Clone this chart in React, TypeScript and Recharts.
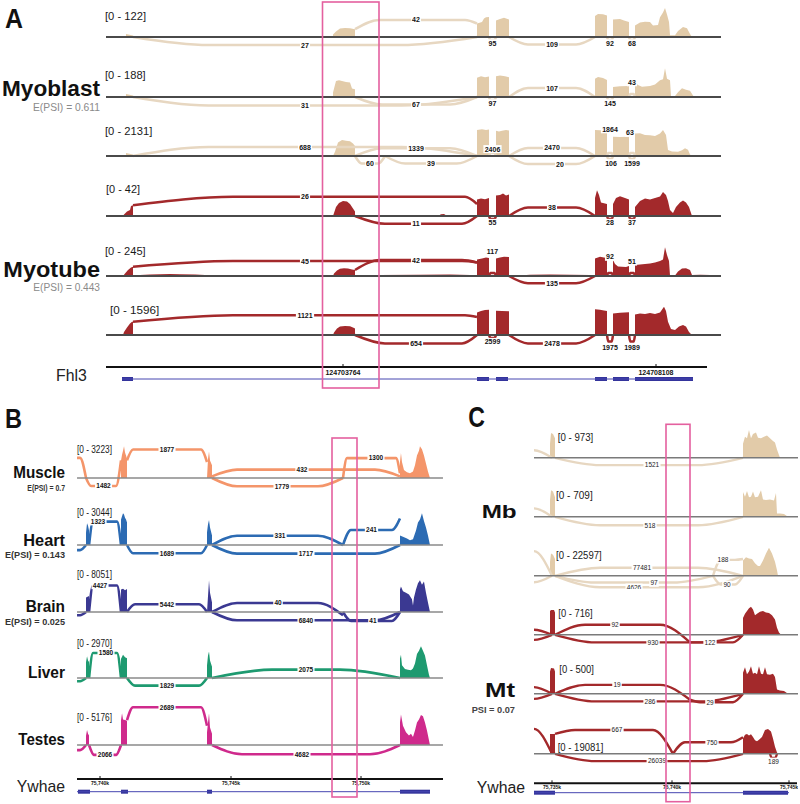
import React from 'react';
import { ComposedChart, XAxis, YAxis, Area, Line, Scatter, ReferenceLine, ReferenceArea } from 'recharts';

type Pt = [number, number];
type Arc = { a: number; b: number; h: number; n?: string; y1?: number; y2?: number; k?: number; k2?: number; lx?: number; ly?: number };

const FONT = '"Liberation Sans", Arial, Helvetica, sans-serif';

// ================= Panel A : Fhl3 (coverage in % of track range, positions along the locus) =================
const fhl3Ranges = [122, 188, 2131, 42, 245, 1596];

const mb1Cov: Pt[] = [[126,0],[126,10],[133,5],[133,0],
  [333,0],[333,8],[336,18],[340,28],[345,30],[350,29],[355,26],[355,0],
  [477,0],[477,45],[482,50],[484,62],[486,66],[489,67],[489,0],
  [496,0],[496,55],[500,60],[504,64],[509,58],[509,0],
  [595,0],[595,70],[598,77],[603,76],[607,72],[607,0],
  [613,0],[613,58],[620,60],[624,55],[629,50],[629,0],
  [635,0],[635,38],[640,48],[645,51],[650,50],[653,38],[658,40],[660,66],[663,82],[665,97],[667,75],[669,50],[670,6],[675,6],[678,20],[683,33],[687,29],[690,10],[692,0]];
const mb2Cov: Pt[] = [[126,0],[126,10],[133,5],[133,0],
  [333,0],[333,15],[336,53],[339,56],[342,53],[346,50],[350,48],[352,28],[355,26],[355,0],
  [477,0],[477,64],[481,69],[485,66],[489,68],[489,0],
  [496,0],[496,69],[500,72],[505,69],[509,66],[509,0],
  [595,0],[595,61],[598,67],[603,63],[607,57],[607,0],
  [613,0],[613,33],[620,36],[629,37],[629,0],
  [635,0],[635,48],[638,40],[642,34],[650,37],[655,42],[660,56],[663,59],[665,96],[667,61],[670,56],[671,3],[675,3],[678,16],[682,29],[686,24],[690,21],[693,5],[694,0]];
const mb3Cov: Pt[] = [[126,0],[126,10],[133,5],[133,0],
  [333,0],[335,14],[338,45],[342,53],[346,51],[350,49],[353,42],[355,33],[355,0],
  [477,0],[477,87],[482,89],[486,87],[489,88],[489,0],
  [496,0],[496,84],[499,82],[502,84],[506,87],[509,85],[509,0],
  [595,0],[595,87],[600,86],[607,84],[607,0],
  [613,0],[613,64],[620,63],[629,64],[629,0],
  [635,0],[635,75],[640,76],[645,70],[650,69],[655,67],[660,75],[663,87],[666,70],[668,20],[672,15],[678,14],[682,19],[685,26],[688,21],[690,5],[692,0]];
const mt1Cov: Pt[] = [[123,0],[124,5],[127,15],[130,20],[131,33],[133,36],[133,0],
  [303,0],[305,3],[307,0],
  [333,0],[334,10],[336,30],[339,43],[343,50],[347,48],[350,40],[353,25],[355,15],[355,0],
  [438,0],[441,6],[444,7],[447,0],
  [477,0],[477,55],[481,58],[485,56],[489,60],[489,0],
  [496,0],[496,68],[500,70],[503,75],[506,68],[509,72],[509,0],
  [520,0],[524,3],[528,0],
  [595,0],[595,60],[597,86],[599,70],[601,45],[607,40],[607,0],
  [613,0],[613,40],[616,60],[620,66],[625,60],[629,55],[629,0],
  [635,0],[635,30],[640,50],[645,58],[650,55],[655,60],[660,65],[663,80],[666,70],[668,50],[670,20],[673,10],[676,30],[680,45],[683,52],[686,45],[689,30],[692,0]];
const mt2Cov: Pt[] = [[123,0],[125,8],[128,20],[131,28],[133,31],[133,0],
  [136,0],[140,3],[150,5],[160,6],[170,7],[180,6],[195,5],[205,3],[208,0],
  [240,0],[250,2],[270,3],[290,3],[305,2],[310,0],
  [333,0],[334,8],[337,18],[340,24],[344,26],[348,25],[352,22],[355,20],[355,0],
  [360,0],[380,3],[420,4],[450,5],[470,3],[477,0],
  [477,55],[482,58],[486,62],[489,60],[489,0],
  [496,0],[496,58],[500,62],[504,64],[509,63],[509,0],
  [512,0],[530,4],[550,5],[570,4],[590,3],[595,0],
  [595,58],[600,64],[604,62],[607,60],[607,0],
  [613,0],[613,53],[615,40],[618,32],[622,31],[626,30],[629,33],[629,0],
  [635,0],[635,37],[640,38],[645,40],[650,42],[655,45],[660,50],[663,55],[665,96],[667,70],[669,50],[670,2],[675,2],[678,15],[682,25],[686,26],[690,20],[692,3],[700,4],[710,3],[719,2],[720,0]];
const mt3Cov: Pt[] = [[123,0],[124,10],[127,25],[130,38],[132,44],[133,44],[133,0],
  [150,0],[160,3],[175,2],[200,3],[230,2],[260,3],[290,2],[320,3],[330,0],
  [333,0],[334,8],[337,22],[340,28],[345,30],[350,29],[353,25],[355,22],[355,0],
  [380,0],[400,2],[440,3],[470,2],[477,0],
  [477,75],[481,80],[485,83],[489,84],[489,0],
  [496,0],[496,81],[502,80],[509,79],[509,0],
  [595,0],[595,86],[600,84],[604,82],[607,80],[607,0],
  [613,0],[613,72],[620,74],[629,76],[629,0],
  [635,0],[635,68],[640,72],[645,70],[650,73],[655,70],[660,75],[664,94],[666,80],[668,44],[671,20],[675,17],[679,28],[683,33],[686,28],[689,10],[692,0]];

const mb1Arcs: Arc[] = [
  { a: 133, b: 477, h: -27, n: '27' },
  { a: 355, b: 477, h: 57, y1: 26, y2: 45, k: 24, k2: 12, n: '42' },
  { a: 489, b: 496, h: -10, n: '95', ly: -21 },
  { a: 509, b: 595, h: -25, n: '109' },
  { a: 607, b: 613, h: -10, n: '92', ly: -21 },
  { a: 629, b: 635, h: -10, n: '68', ly: -21 },
];
const mb2Arcs: Arc[] = [
  { a: 133, b: 477, h: -28, n: '31' },
  { a: 355, b: 477, h: -25, n: '67' },
  { a: 489, b: 496, h: -10, n: '97', ly: -21 },
  { a: 509, b: 595, h: 30, n: '107' },
  { a: 607, b: 613, h: -10, n: '145', ly: -21 },
  { a: 629, b: 635, h: 10, n: '43', ly: 49 },
];
const mb3Arcs: Arc[] = [
  { a: 133, b: 477, h: 30, n: '688' },
  { a: 355, b: 477, h: 26, n: '1339' },
  { a: 355, b: 385, h: -25, n: '60' },
  { a: 385, b: 477, h: -25, n: '39' },
  { a: 489, b: 496, h: 10, n: '2406', ly: 23 },
  { a: 509, b: 595, h: 27, n: '2470' },
  { a: 509, b: 595, h: -27, n: '20', lx: 560 },
  { a: 607, b: 613, h: 10, n: '1864', ly: 89 },
  { a: 607, b: 613, h: -10, n: '106', ly: -24, lx: 611 },
  { a: 629, b: 635, h: 10, n: '63', ly: 77, lx: 630 },
  { a: 629, b: 635, h: -10, n: '1599', ly: -24 },
];
const mt1Arcs: Arc[] = [
  { a: 133, b: 477, h: 64, y1: 36, y2: 40, k: 100, k2: 12, n: '26' },
  { a: 355, b: 477, h: -26, k: 30, k2: 15, n: '11' },
  { a: 489, b: 496, h: -10, n: '55', ly: -23 },
  { a: 509, b: 595, h: 28, n: '38' },
  { a: 607, b: 613, h: -10, n: '28', ly: -23 },
  { a: 629, b: 635, h: -10, n: '37', ly: -23 },
];
const mt2Arcs: Arc[] = [
  { a: 133, b: 477, h: 50, y1: 31, y2: 45, k: 100, k2: 15, n: '45' },
  { a: 355, b: 477, h: 53, y1: 20, y2: 45, k: 25, k2: 15, n: '42' },
  { a: 489, b: 496, h: 10, n: '117', ly: 81 },
  { a: 509, b: 595, h: -24, n: '135' },
  { a: 607, b: 613, h: 10, n: '92', ly: 64 },
  { a: 629, b: 635, h: 10, n: '51', ly: 48 },
];
const mt3Arcs: Arc[] = [
  { a: 133, b: 477, h: 66, y1: 44, y2: 60, k: 100, k2: 12, n: '1121' },
  { a: 355, b: 477, h: -28, k: 30, k2: 15, n: '654' },
  { a: 489, b: 496, h: -10, n: '2599', ly: -23 },
  { a: 509, b: 595, h: -28, n: '2478' },
  { a: 607, b: 613, h: -22, n: '1975', ly: -41 },
  { a: 629, b: 635, h: -22, n: '1989', ly: -41 },
];

const fhl3Exons: Pt[] = [[122,133],[477,489],[496,508],[595,607],[613,629],[635,693]];
const fhl3GeneSpan: Pt = [122, 693];
const fhl3AxisSpan: Pt = [106, 707];
const fhl3Ticks = [{ x: 343, label: '124703764' }, { x: 656, label: '124708108' }];

// ================= Panel B : Ywhae across tissues =================
const tissueRanges = [3223, 3044, 8051, 2970, 5176];

const muscleCov: Pt[] = [[121,0],[121,55],[122,73],[123,85],[124,99],[125,80],[126,70],[127,60],[127,0],
  [207,0],[208,60],[209,83],[210,55],[212,40],[212,0],
  [400,0],[400,50],[401,78],[402,50],[404,25],[407,18],[410,15],[413,20],[415,40],[417,70],[419,85],[420,99],[422,90],[424,70],[426,45],[428,20],[430,0]];
const heartCov: Pt[] = [[86,0],[86,40],[87,68],[88,60],[89,45],[89,0],
  [121,0],[121,80],[122,90],[123,99],[124,95],[125,85],[126,80],[127,70],[127,0],
  [207,0],[207,40],[208,65],[209,78],[210,55],[212,30],[212,0],
  [400,0],[400,30],[403,26],[407,20],[410,15],[413,18],[416,45],[418,70],[420,80],[422,99],[424,75],[426,55],[428,30],[430,0]];
const brainCov: Pt[] = [[86,0],[86,45],[89,50],[89,0],
  [121,0],[121,70],[123,73],[125,68],[127,72],[127,0],
  [207,0],[208,50],[209,99],[210,60],[212,30],[212,0],
  [400,0],[400,70],[401,80],[403,65],[406,60],[409,55],[412,40],[413,20],[414,45],[416,70],[418,90],[420,99],[422,85],[424,95],[426,60],[428,30],[430,0]];
const liverCov: Pt[] = [[86,0],[86,50],[87,68],[88,55],[89,50],[89,0],
  [121,0],[121,60],[123,73],[125,65],[127,62],[127,0],
  [207,0],[207,40],[208,70],[209,83],[210,55],[212,35],[212,0],
  [400,0],[400,60],[401,73],[402,40],[405,28],[408,26],[411,24],[413,30],[415,45],[417,75],[419,85],[421,99],[423,85],[425,70],[427,40],[429,10],[430,0]];
const testesCov: Pt[] = [[86,0],[86,30],[87,47],[88,35],[89,30],[89,0],
  [121,0],[121,78],[122,99],[123,80],[125,78],[127,76],[127,0],
  [207,0],[207,40],[208,70],[209,99],[210,55],[212,35],[212,0],
  [400,0],[400,70],[401,95],[403,60],[406,40],[409,30],[411,35],[413,25],[415,45],[417,70],[419,80],[421,94],[423,90],[425,70],[427,45],[429,15],[430,0]];

const muscleArcs: Arc[] = [
  { a: 20, b: 86, h: 63, k: 6 },
  { a: 86, b: 121, h: -25, y2: 55, k: 5, n: '1482' },
  { a: 127, b: 207, h: 89, y1: 55, y2: 50, k: 6, n: '1877' },
  { a: 212, b: 400, h: 26, y1: 5, y2: 5, k: 25, n: '432', lx: 302 },
  { a: 212, b: 343, h: -26, k: 25, n: '1779', lx: 282 },
  { a: 343, b: 400, h: 62, y2: 15, k: 4, n: '1300', lx: 376 },
];
const heartArcs: Arc[] = [
  { a: 20, b: 86, h: -16, k: 6 },
  { a: 89, b: 121, h: 73, k: 4, n: '1323', lx: 98 },
  { a: 127, b: 207, h: -26, k: 6, n: '1689' },
  { a: 212, b: 343, h: 29, k: 25, n: '331', lx: 280 },
  { a: 343, b: 400, h: 47, y2: 83, k: 8, n: '241' },
  { a: 212, b: 400, h: -27, k: 25, n: '1717' },
];
const brainArcs: Arc[] = [
  { a: 20, b: 86, h: -10, k: 6 },
  { a: 89, b: 121, h: 83, k: 4, n: '4427', lx: 100 },
  { a: 127, b: 207, h: 24, k: 8, n: '5442' },
  { a: 212, b: 343, h: 28, y2: -10, k: 25, n: '40', lx: 278 },
  { a: 212, b: 400, h: -26, k: 25, n: '6840' },
  { a: 343, b: 400, h: -28, k: 8, n: '41', lx: 373 },
];
const liverArcs: Arc[] = [
  { a: 20, b: 86, h: -10, k: 6 },
  { a: 89, b: 121, h: 78, k: 4, n: '1580', lx: 106 },
  { a: 127, b: 207, h: -24, k: 8, n: '1829' },
  { a: 212, b: 400, h: 26, k: 60, n: '2075' },
];
const testesArcs: Arc[] = [
  { a: 20, b: 86, h: -16, k: 6 },
  { a: 89, b: 121, h: -31, k: 5, n: '2066' },
  { a: 127, b: 207, h: 118, y1: 78, y2: 60, k: 6, n: '2689' },
  { a: 212, b: 400, h: -29, k: 30, n: '4682', lx: 302 },
];

const ywhaeBExons: Pt[] = [[78,90],[121,128],[207,212],[400,430]];
const ywhaeBGeneSpan: Pt = [77, 430];
const ywhaeBAxisSpan: Pt = [77, 443];
const ywhaeBTicks = [{ x: 100, label: '75,740k' }, { x: 231, label: '75,745k' }, { x: 361, label: '75,750k' }];

// ================= Panel C : Ywhae Mb / Mt =================
const cRanges = [973, 709, 22597, 716, 500, 19081];

const cMb1Cov: Pt[] = [[550,0],[550,50],[551,89],[553,85],[555,70],[555,0],
  [743,0],[743,50],[745,75],[747,70],[749,99],[751,70],[753,85],[756,90],[758,72],[761,70],[764,75],[767,80],[770,70],[773,60],[775,55],[777,30],[779,10],[780,0]];
const cMb2Cov: Pt[] = [[550,0],[550,60],[551,95],[553,90],[555,70],[555,0],
  [743,0],[743,89],[745,72],[747,92],[749,70],[751,72],[753,90],[755,70],[758,72],[761,95],[763,62],[766,60],[770,62],[774,58],[776,85],[777,12],[780,12],[784,10],[788,0]];
const cMb3Cov: Pt[] = [[550,0],[550,50],[551,80],[553,75],[555,60],[555,0],
  [743,0],[743,55],[746,66],[749,62],[752,60],[755,45],[758,35],[760,35],[763,55],[766,80],[769,100],[772,80],[775,50],[777,20],[778,0]];
const cMt1Cov: Pt[] = [[550,0],[550,85],[551,89],[554,89],[555,80],[555,0],
  [743,0],[743,60],[745,75],[747,85],[749,95],[751,100],[753,90],[755,70],[757,75],[760,82],[763,85],[766,80],[769,78],[772,70],[775,55],[777,25],[779,8],[781,0]];
const cMt2Cov: Pt[] = [[550,0],[550,80],[551,92],[554,90],[555,80],[555,0],
  [743,0],[743,75],[745,95],[747,70],[749,80],[751,98],[753,72],[755,75],[757,70],[759,98],[761,72],[763,70],[765,95],[767,70],[770,68],[773,72],[775,60],[777,15],[780,12],[784,10],[788,0]];
const cMt3Cov: Pt[] = [[550,0],[550,71],[555,71],[555,0],
  [743,0],[743,55],[745,68],[747,71],[749,65],[751,70],[753,60],[755,48],[757,45],[759,50],[762,60],[765,85],[768,89],[771,80],[773,55],[775,25],[777,5],[778,0]];

const cMb1Arcs: Arc[] = [
  { a: 400, b: 552, h: 27, k: 18 },
  { a: 555, b: 743, h: -26, n: '1521', lx: 652 },
];
const cMb2Arcs: Arc[] = [
  { a: 400, b: 552, h: 30, k: 18 },
  { a: 555, b: 743, h: -30, n: '518', lx: 650 },
];
const cMb3Arcs: Arc[] = [
  { a: 400, b: 552, h: 88, k: 18 },
  { a: 400, b: 552, h: -23, k: 18 },
  { a: 555, b: 743, h: 29, n: '77481', lx: 642 },
  { a: 555, b: 743, h: -41, n: '4626', lx: 634 },
  { a: 555, b: 713, h: -24, n: '97', lx: 654, ly: -26 },
  { a: 713, b: 743, h: 57, y2: 60, k: 8, n: '188', lx: 723 },
  { a: 713, b: 743, h: -31, k: 8, n: '90', lx: 727 },
];
const cMt1Arcs: Arc[] = [
  { a: 400, b: 552, h: 18, k: 18 },
  { a: 400, b: 552, h: -18, k: 18 },
  { a: 555, b: 690, h: 36, y2: -27, k: 30, n: '92', lx: 615 },
  { a: 555, b: 743, h: -27, k: 40, n: '930', lx: 653 },
  { a: 690, b: 743, h: -27, y1: -27, k: 10, n: '122', lx: 710 },
];
const cMt2Arcs: Arc[] = [
  { a: 400, b: 552, h: 24, k: 18 },
  { a: 400, b: 552, h: -18, k: 18 },
  { a: 555, b: 690, h: 32, y2: -21, k: 30, n: '19', lx: 617 },
  { a: 555, b: 743, h: -27, k: 40, n: '286', lx: 650 },
  { a: 690, b: 743, h: -30, y1: -21, k: 10, n: '29', lx: 710 },
];
const cMt3Arcs: Arc[] = [
  { a: 400, b: 552, h: 89, k: 18 },
  { a: 555, b: 673, h: 85, y1: 71, k: 20, n: '667', lx: 617 },
  { a: 673, b: 743, h: 41, y2: 59, k: 12, n: '750', lx: 712 },
  { a: 555, b: 743, h: -26, k: 40, n: '26039', lx: 657 },
  { a: 770, b: 777, h: -15, n: '189', ly: -27 },
];

const ywhaeCExons: Pt[] = [[534,555],[743,788]];
const ywhaeCGeneSpan: Pt = [534, 789];
const ywhaeCAxisSpan: Pt = [534, 797];
const ywhaeCTicks = [{ x: 552, label: '75,735k' }, { x: 672, label: '75,740k' }, { x: 789, label: '75,745k' }];

// ================= layout / styles =================
const panelA = { left: 106, width: 615, domain: [106, 721], px100: 30, yLo: -50, yHi: 110, kFrac: 0.22, kMax: 80, arcWidth: 2.5, baseColor: '#4a4a4a', baseWidth: 2, label: { size: 7, weight: 700, color: '#111' } };
const panelB = { left: 77, width: 366, domain: [77, 443], px100: 32, yLo: -45, yHi: 125, kFrac: 0.12, kMax: 25, arcWidth: 2.6, baseColor: '#8a8a8a', baseWidth: 1.5, label: { size: 6.5, weight: 700, color: '#111' } };
const panelC = { left: 534, width: 264, domain: [534, 798], px100: 28, yLo: -50, yHi: 110, kFrac: 0.25, kMax: 45, arcWidth: 2.4, baseColor: '#7a7a7a', baseWidth: 1.5, label: { size: 6.5, weight: 400, color: '#222' } };

const BEIGE = '#e2cba9';
const BEIGE_ARC = '#e7d7c1';
const RED = '#a3292b';

function arcLine(arc: Arc, kFrac: number, kMax: number) {
  const span = arc.b - arc.a;
  const def = Math.min(span * kFrac, kMax);
  const k1 = Math.min(arc.k ?? def, span * 0.42);
  const k2 = Math.min(arc.k2 ?? arc.k ?? def, span * 0.42);
  const mid = (arc.a + arc.b) / 2;
  return [
    { x: arc.a, y: arc.y1 ?? 0 },
    { x: arc.a + k1, y: arc.h },
    { x: mid, y: arc.h },
    { x: arc.b - k2, y: arc.h },
    { x: arc.b, y: arc.y2 ?? 0 },
  ];
}

function labelShape(style: { size: number; weight: number; color: string }) {
  return (p: any) => {
    const { cx, cy, payload } = p;
    if (cx == null || cy == null) return <g />;
    const s = String(payload.n);
    const w = s.length * style.size * 0.58 + 2;
    const h = style.size + 1;
    return (
      <g opacity={0.99}>
        <rect x={cx - w / 2} y={cy - h / 2} width={w} height={h} fill="#fff" />
        <text x={cx} y={cy + style.size * 0.36} textAnchor="middle" fontFamily={FONT} fontSize={style.size} fontWeight={style.weight} fill={style.color}>{s}</text>
      </g>
    );
  };
}

function SashimiTrack({ panel, baseline, cov, arcs, color, arcColor }: any) {
  const h = ((panel.yHi - panel.yLo) * panel.px100) / 100;
  const top = baseline - (panel.yHi * panel.px100) / 100;
  const covData = cov.map(([x, y]: Pt) => ({ x, y }));
  const labels = arcs.filter((a: Arc) => a.n).map((a: Arc) => ({ x: a.lx ?? (a.a + a.b) / 2, y: a.ly ?? a.h, n: a.n }));
  return (
    <div style={{ position: 'absolute', left: panel.left, top, width: panel.width, height: h }}>
      <ComposedChart width={panel.width} height={h} margin={{ top: 0, right: 0, bottom: 0, left: 0 }}>
        <XAxis type="number" dataKey="x" domain={panel.domain} hide allowDataOverflow />
        <YAxis type="number" domain={[panel.yLo, panel.yHi]} hide allowDataOverflow />
        {arcs.map((a: Arc, i: number) => (
          <Line key={'arc' + i} data={arcLine(a, panel.kFrac, panel.kMax)} dataKey="y" type="monotone" stroke={arcColor} strokeWidth={panel.arcWidth} dot={false} activeDot={false} isAnimationActive={false} />
        ))}
        <Area data={covData} dataKey="y" type="linear" stroke="none" fill={color} fillOpacity={1} baseValue={0} dot={false} activeDot={false} isAnimationActive={false} />
        <ReferenceLine y={0} stroke={panel.baseColor} strokeWidth={panel.baseWidth} />
        <Scatter data={labels} dataKey="y" shape={labelShape(panel.label)} isAnimationActive={false} />
      </ComposedChart>
    </div>
  );
}

function tickShape(size: number, dy: number) {
  return (p: any) => {
    const { cx, cy, payload } = p;
    if (cx == null || cy == null) return <g />;
    return (
      <g opacity={0.99}>
        <line x1={cx} x2={cx} y1={cy} y2={cy - 3} stroke="#111" strokeWidth={1} />
        <text x={cx} y={cy + dy} textAnchor="middle" fontFamily={FONT} fontSize={size} fontWeight={700} fill="#111">{payload.label}</text>
      </g>
    );
  };
}

function GeneTrack({ panel, top, axisLevel, modelLevel, axisSpan, geneSpan, exons, ticks, tickSize, tickDy }: any) {
  const H = 24;
  const tickData = ticks.map((t: any) => ({ x: t.x, y: axisLevel, label: t.label }));
  return (
    <div style={{ position: 'absolute', left: panel.left, top, width: panel.width, height: H }}>
      <ComposedChart width={panel.width} height={H} margin={{ top: 0, right: 0, bottom: 0, left: 0 }}>
        <XAxis type="number" dataKey="x" domain={panel.domain} hide allowDataOverflow />
        <YAxis type="number" domain={[0, H]} hide allowDataOverflow />
        <ReferenceLine segment={[{ x: axisSpan[0], y: axisLevel }, { x: axisSpan[1], y: axisLevel }]} stroke="#111" strokeWidth={2} />
        <ReferenceLine segment={[{ x: geneSpan[0], y: modelLevel }, { x: geneSpan[1], y: modelLevel }]} stroke="#4646b0" strokeWidth={1} />
        {exons.map((e: Pt, i: number) => (
          <ReferenceArea key={'ex' + i} x1={e[0]} x2={e[1]} y1={modelLevel - 2} y2={modelLevel + 2} fill="#34349c" fillOpacity={1} stroke="none" />
        ))}
        <Scatter data={tickData} dataKey="y" shape={tickShape(tickSize, tickDy)} isAnimationActive={false} />
      </ComposedChart>
    </div>
  );
}

const aTracks = [
  { base: 36.7, cov: mb1Cov, arcs: mb1Arcs, color: BEIGE, arc: BEIGE_ARC },
  { base: 96.7, cov: mb2Cov, arcs: mb2Arcs, color: BEIGE, arc: BEIGE_ARC },
  { base: 156, cov: mb3Cov, arcs: mb3Arcs, color: BEIGE, arc: BEIGE_ARC },
  { base: 215.7, cov: mt1Cov, arcs: mt1Arcs, color: RED, arc: RED },
  { base: 276, cov: mt2Cov, arcs: mt2Arcs, color: RED, arc: RED },
  { base: 335, cov: mt3Cov, arcs: mt3Arcs, color: RED, arc: RED },
];
const bTracks = [
  { base: 478.3, cov: muscleCov, arcs: muscleArcs, color: '#f4956a' },
  { base: 545, cov: heartCov, arcs: heartArcs, color: '#2c6bb3' },
  { base: 611.7, cov: brainCov, arcs: brainArcs, color: '#3b3992' },
  { base: 678.3, cov: liverCov, arcs: liverArcs, color: '#1e9a70' },
  { base: 745, cov: testesCov, arcs: testesArcs, color: '#cf2a8c' },
];
const cTracks = [
  { base: 457.7, cov: cMb1Cov, arcs: cMb1Arcs, color: BEIGE, arc: BEIGE_ARC },
  { base: 516.7, cov: cMb2Cov, arcs: cMb2Arcs, color: BEIGE, arc: BEIGE_ARC },
  { base: 575.3, cov: cMb3Cov, arcs: cMb3Arcs, color: BEIGE, arc: BEIGE_ARC },
  { base: 635, cov: cMt1Cov, arcs: cMt1Arcs, color: RED, arc: RED },
  { base: 694, cov: cMt2Cov, arcs: cMt2Arcs, color: RED, arc: RED },
  { base: 753.3, cov: cMt3Cov, arcs: cMt3Arcs, color: RED, arc: RED },
];

const aRangePos = [
  { x: 105, y: 19.5, len: 41 }, { x: 105, y: 79, len: 40.7 }, { x: 105, y: 134.5, len: 47.3 },
  { x: 106, y: 193, len: 34 }, { x: 105, y: 254.5, len: 40.7 }, { x: 110, y: 313.5, len: 49.3 },
];
const bRangePos = [
  { x: 77, y: 453, len: 35 }, { x: 77, y: 515.5, len: 35 }, { x: 77, y: 578, len: 35 },
  { x: 77, y: 646.5, len: 35 }, { x: 77, y: 720.5, len: 35 },
];
const cRangePos = [
  { x: 557.7, y: 440.5, len: 35.6 }, { x: 556, y: 499, len: 36.7 }, { x: 556, y: 559, len: 45.7 },
  { x: 558.3, y: 617, len: 34.4 }, { x: 559.3, y: 672.5, len: 34.7 }, { x: 557.7, y: 750.5, len: 45.6 },
];

const staticTexts = [
  { t: 'A', x: 5, y: 28, size: 28, weight: 700, fill: '#111', len: 18 },
  { t: 'Myoblast', x: 2, y: 96, size: 22, weight: 700, fill: '#111', len: 98 },
  { t: 'E(PSI) = 0.611', x: 33, y: 111, size: 10.5, weight: 400, fill: '#8a8a8a', len: 67 },
  { t: 'Myotube', x: 3.3, y: 276.5, size: 21.5, weight: 700, fill: '#111', len: 96.7 },
  { t: 'E(PSI) = 0.443', x: 33.3, y: 291, size: 10, weight: 400, fill: '#8a8a8a', len: 66.7 },
  { t: 'Fhl3', x: 56, y: 380.5, size: 16, weight: 400, fill: '#222', len: 30.7 },
  { t: 'B', x: 5, y: 428, size: 28, weight: 700, fill: '#111', len: 17 },
  { t: 'Muscle', x: 13.3, y: 478.3, size: 17, weight: 700, fill: '#111', len: 51.7 },
  { t: 'E(PSI) = 0.7', x: 27.3, y: 490.5, size: 9.5, weight: 700, fill: '#333', len: 37.7 },
  { t: 'Heart', x: 23.3, y: 545.5, size: 17, weight: 700, fill: '#111', len: 41.7 },
  { t: 'E(PSI) = 0.143', x: 5, y: 557.5, size: 9.5, weight: 700, fill: '#333', len: 60 },
  { t: 'Brain', x: 25.7, y: 611.5, size: 17, weight: 700, fill: '#111', len: 39.3 },
  { t: 'E(PSI) = 0.025', x: 5, y: 625, size: 9.5, weight: 700, fill: '#333', len: 60 },
  { t: 'Liver', x: 28, y: 678, size: 17, weight: 700, fill: '#111', len: 37 },
  { t: 'Testes', x: 18.3, y: 745, size: 17, weight: 700, fill: '#111', len: 46.7 },
  { t: 'Ywhae', x: 16.7, y: 792, size: 17, weight: 400, fill: '#222', len: 48.3 },
  { t: 'C', x: 468.3, y: 427, size: 30, weight: 700, fill: '#111', len: 16.7 },
  { t: 'Mb', x: 481.7, y: 518, size: 19, weight: 700, fill: '#111', len: 35 },
  { t: 'Mt', x: 485, y: 696.5, size: 19.5, weight: 700, fill: '#111', len: 30 },
  { t: 'PSI = 0.07', x: 471.7, y: 713.3, size: 9, weight: 700, fill: '#444', len: 43.3 },
  { t: 'Ywhae', x: 476.7, y: 793, size: 16, weight: 400, fill: '#222', len: 48.3 },
];

const highlightBoxes = [
  { x: 322.5, y: 2, w: 56.5, h: 386 },
  { x: 332, y: 438, w: 25, h: 359 },
  { x: 666, y: 424.3, w: 24, h: 377.4 },
];

export default function App() {
  const rangeTexts = [
    ...fhl3Ranges.map((r, i) => ({ t: `[0 - ${r}]`, ...aRangePos[i], size: 11 })),
    ...tissueRanges.map((r, i) => ({ t: `[0 - ${r}]`, ...bRangePos[i], size: 10 })),
    ...cRanges.map((r, i) => ({ t: `[0 - ${r}]`, ...cRangePos[i], size: 10.5 })),
  ];
  return (
    <div style={{ position: 'absolute', left: 0, top: 0, width: 800, height: 804, background: '#fff', overflow: 'hidden', fontFamily: FONT }}>
      {aTracks.map((t, i) => (
        <SashimiTrack key={'a' + i} panel={panelA} baseline={t.base} cov={t.cov} arcs={t.arcs} color={t.color} arcColor={t.arc} />
      ))}
      {bTracks.map((t, i) => (
        <SashimiTrack key={'b' + i} panel={panelB} baseline={t.base} cov={t.cov} arcs={t.arcs} color={t.color} arcColor={t.color} />
      ))}
      {cTracks.map((t, i) => (
        <SashimiTrack key={'c' + i} panel={panelC} baseline={t.base} cov={t.cov} arcs={t.arcs} color={t.color} arcColor={t.arc} />
      ))}
      <GeneTrack panel={panelA} top={360} axisLevel={17} modelLevel={5} axisSpan={fhl3AxisSpan} geneSpan={fhl3GeneSpan} exons={fhl3Exons} ticks={fhl3Ticks} tickSize={7} tickDy={7.5} />
      <GeneTrack panel={panelB} top={772} axisLevel={17} modelLevel={4.3} axisSpan={ywhaeBAxisSpan} geneSpan={ywhaeBGeneSpan} exons={ywhaeBExons} ticks={ywhaeBTicks} tickSize={5} tickDy={6} />
      <GeneTrack panel={panelC} top={776} axisLevel={16.7} modelLevel={7.3} axisSpan={ywhaeCAxisSpan} geneSpan={ywhaeCGeneSpan} exons={ywhaeCExons} ticks={ywhaeCTicks} tickSize={5} tickDy={6} />
      <svg width={800} height={804} style={{ position: 'absolute', left: 0, top: 0, pointerEvents: 'none' }}>
        {staticTexts.map((s, i) => (
          <text key={'s' + i} x={s.x} y={s.y} fontFamily={FONT} fontSize={s.size} fontWeight={s.weight} fill={s.fill} textLength={s.len} lengthAdjust="spacingAndGlyphs">{s.t}</text>
        ))}
        {rangeTexts.map((s, i) => (
          <text key={'r' + i} x={s.x} y={s.y} fontFamily={FONT} fontSize={s.size} fill="#1a1a1a" textLength={s.len} lengthAdjust="spacingAndGlyphs">{s.t}</text>
        ))}
        {highlightBoxes.map((b, i) => (
          <rect key={'h' + i} x={b.x} y={b.y} width={b.w} height={b.h} fill="none" stroke="#e4609f" strokeWidth={1.6} />
        ))}
      </svg>
    </div>
  );
}
